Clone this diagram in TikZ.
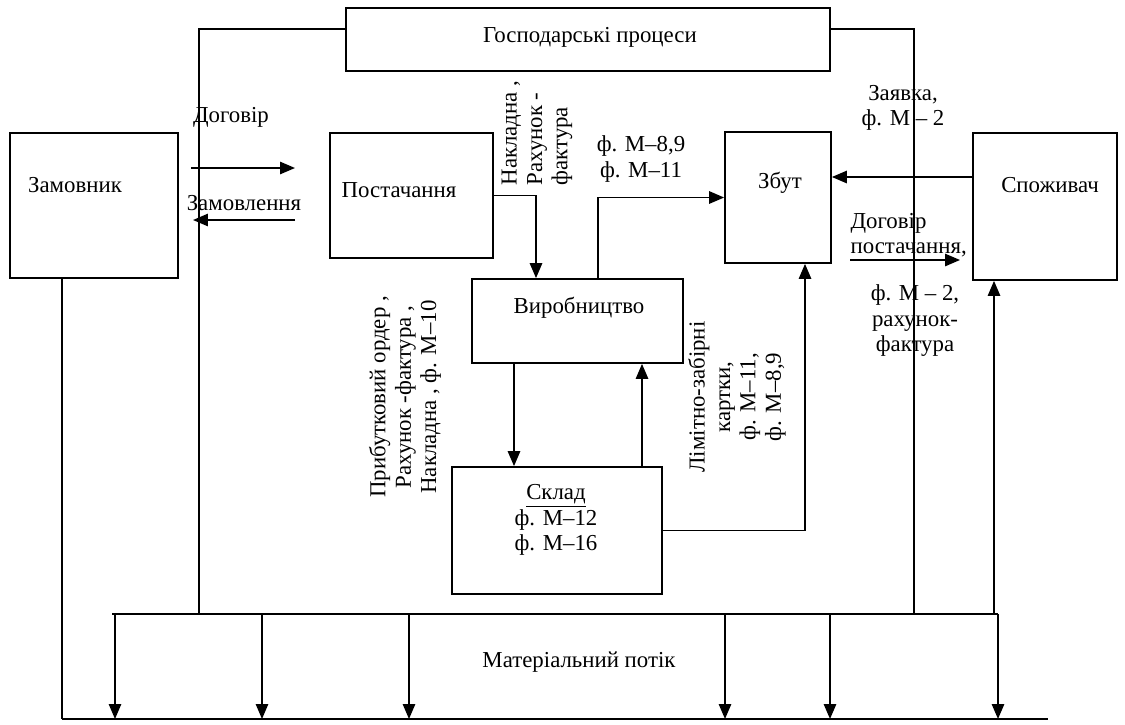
\documentclass[tikz,border=0pt]{standalone}
\usepackage{fontspec}
\setmainfont{Liberation Serif}
\usetikzlibrary{arrows.meta}
\tikzset{
  blk/.style={draw,inner sep=0pt},
  txt/.style={font=\fontsize{13}{14.5}\selectfont,inner sep=1pt,align=center},
  flow/.style={-{Triangle[length=8.5pt,width=7pt]}}
}
\begin{document}
\begin{tikzpicture}[x=0.02cm,y=-0.02cm,line width=1pt]
  \useasboundingbox (0,0) rectangle (1125,724);
  % blocks
  \node[blk,minimum width=9.68cm,minimum height=1.26cm] (proc) at (588,39.5) {};
  \node[txt] (proct) at (590,37) {Господарські процеси};
  \node[blk,minimum width=3.36cm,minimum height=2.9cm] (zam) at (94,205.5) {};
  \node[txt] (zamt) at (75,185) {Замовник};
  \node[blk,minimum width=3.26cm,minimum height=2.5cm] (post) at (411.5,195.5) {};
  \node[txt] (postt) at (399,190) {Постачання};
  \node[blk,minimum width=2.12cm,minimum height=2.62cm] (zbut) at (778,197.5) {};
  \node[txt] (zbutt) at (780,183) {Збут};
  \node[blk,minimum width=2.88cm,minimum height=2.94cm] (spoz) at (1045,206.5) {};
  \node[txt] (spozt) at (1050,185) {Споживач};
  \node[blk,minimum width=4.22cm,minimum height=1.68cm] (vyr) at (577.5,321) {};
  \node[txt] (vyrt) at (579,308) {Виробництво};
  \node[blk,minimum width=4.2cm,minimum height=2.54cm] (sklad) at (557,530.5) {};
  \node[txt] (skladt) at (556,520) {\underline{Склад}\\ф. М–12\\ф. М–16};

  % frame and material flow
  \draw (proc.west |- 0,29) -| (199,614);
  \draw (proc.east |- 0,29) -| (914,614);
  \coordinate (busL) at (112,614);
  \coordinate (busR) at (998,614);
  \coordinate (baseL) at (62,719);
  \coordinate (baseR) at (1048,719);
  \draw (busL) -- (busR);
  \draw (baseL) -- (baseR);
  \draw (zam.south -| baseL) -- (baseL);
  \foreach \x in {115,262,409,725,830,998}
    \draw[flow] (\x,614) -- (\x,719);
  \draw[flow] (994,614) -- (spoz.south -| 994,0);
  \node[txt] (matt) at (579,662) {Матеріальний потік};

  % documents
  \coordinate (dogA) at (191,168);
  \coordinate (dogB) at (295,168);
  \draw[flow] (dogA) -- (dogB);
  \node[txt] (dogt) at (231,117) {Договір};
  \coordinate (zmA) at (295,220);
  \coordinate (zmB) at (193,220);
  \draw[flow] (zmA) -- (zmB);
  \node[txt] (zmt) at (244,203) {Замовлення};

  \draw[flow] (post.east) -| (vyr.north -| 536,0);
  \node[txt,rotate=90,align=left] (nakt) at (537,133) {Накладна ,\\Рахунок -\\фактура};
  \draw[flow] (vyr.north -| 598,0) |- (zbut.west);
  \node[txt] (m89t) at (641,159) {ф. М–8,9\\ф. М–11};

  \draw[flow] (spoz.west |- 0,177) -- (zbut.east |- 0,177);
  \node[txt] (zayt) at (903,108) {Заявка,\\ф. М – 2};
  \coordinate (dpA) at (850,260);
  \coordinate (dpB) at (960,260);
  \draw[flow] (dpA) -- (dpB);
  \node[txt,align=left,anchor=west] (dpt) at (848,235) {Договір\\постачання,};
  \node[txt] (rahT) at (915,321) {ф. М – 2,\\рахунок-\\фактура};

  \draw[flow] (vyr.south -| 514,0) -- (sklad.north -| 514,0);
  \draw[flow] (sklad.north -| 642,0) -- (vyr.south -| 642,0);
  \node[txt,rotate=90] (pribt) at (405,397) {Прибутковий ордер ,\\Рахунок -фактура ,\\Накладна , ф. М–10};
  \draw[flow] (sklad.east) -| (zbut.south -| 805,0);
  \node[txt,rotate=90] (limt) at (737,397) {Лімітно-забірні\\картки,\\ф. М–11,\\ф. М–8,9};
\end{tikzpicture}
\end{document}
